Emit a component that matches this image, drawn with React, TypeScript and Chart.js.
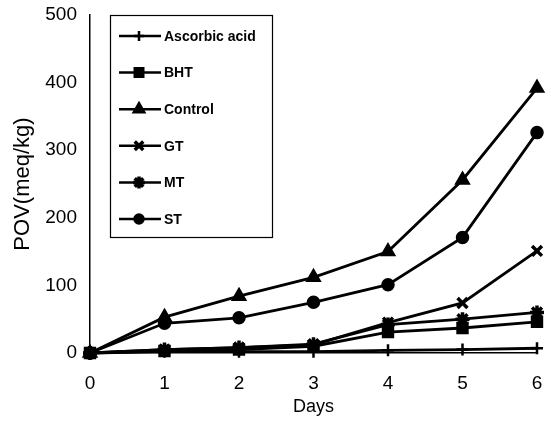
import React, { useEffect, useRef } from "react";
import { Chart, registerables } from "chart.js";
import { drawPoint } from "chart.js/helpers";

Chart.register(...registerables);

const days = [0, 1, 2, 3, 4, 5, 6];
const ascorbic = [0, 2, 2, 2, 4, 5, 7];
const bht = [0, 3, 5, 10, 31, 37, 46];
const control = [0, 53, 84, 112, 150, 256, 392];
const gt = [0, 5, 8, 12, 45, 74, 151];
const mt = [0, 5, 8, 13, 42, 50, 60];
const st = [0, 44, 52, 75, 101, 171, 326];
const yTicks = [0, 100, 200, 300, 400, 500];

const seriesNames = ["Ascorbic acid", "BHT", "Control", "GT", "MT", "ST"];
const seriesValues = [ascorbic, bht, control, gt, mt, st];
const seriesStyles = ["cross", "rect", "triangle", "crossRot", "star", "circle"];

const FONT = "'Liberation Sans', Arial, sans-serif";

const legendBox = {
  id: "legendBox",
  afterDraw(chart: any) {
    const ctx = chart.ctx;
    const left = 110, top = 15, right = 272, bottom = 237;
    ctx.save();
    ctx.fillStyle = "#fff";
    ctx.fillRect(left, top, right - left, bottom - top);
    ctx.strokeStyle = "#000";
    ctx.lineWidth = 1.2;
    ctx.strokeRect(left + 0.5, top + 0.5, right - left, bottom - top);
    chart.data.datasets.forEach((ds: any, i: number) => {
      const y = 36 + i * 36.6;
      ctx.strokeStyle = "#000";
      ctx.lineWidth = 2.5;
      ctx.beginPath();
      ctx.moveTo(119, y);
      ctx.lineTo(161, y);
      ctx.stroke();
      ctx.fillStyle = "#000";
      ctx.lineWidth = ds.pointBorderWidth;
      drawPoint(ctx, { pointStyle: ds.pointStyle, radius: ds.pointRadius - 1, borderWidth: ds.pointBorderWidth, rotation: 0 } as any, 139, y);
      ctx.fillStyle = "#000";
      ctx.font = "bold 14px " + FONT;
      ctx.textBaseline = "middle";
      ctx.textAlign = "left";
      ctx.fillText(ds.label, 164, y + 1);
    });
    ctx.restore();
  },
};

export default function App() {
  const ref = useRef<HTMLCanvasElement>(null);
  useEffect(() => {
    if (!ref.current) return;
    const chart = new Chart(ref.current, {
      type: "line",
      data: {
        datasets: seriesNames.map((name, i) => ({
          label: name,
          data: days.map((d, j) => ({ x: d, y: seriesValues[i][j] })),
          borderColor: "#000",
          backgroundColor: "#000",
          borderWidth: 2.8,
          pointStyle: seriesStyles[i] as any,
          pointRadius: seriesStyles[i] === "circle" ? 5.5 : seriesStyles[i] === "cross" ? 6 : 7,
          pointBorderWidth: seriesStyles[i] === "crossRot" || seriesStyles[i] === "star" ? 3.5 : 2.5,
          pointBackgroundColor: "#000",
          pointBorderColor: "#000",
          tension: 0,
          clip: false as any,
        })),
      },
      options: {
        animation: false,
        responsive: false,
        layout: { autoPadding: false, padding: { top: 15, right: 14, left: 0, bottom: 0 } },
        plugins: { legend: { display: false }, tooltip: { enabled: false } },
        scales: {
          x: {
            type: "linear",
            min: 0,
            max: 6,
            grid: { display: false, drawTicks: false },
            border: { display: true, color: "#000", width: 1.5 },
            ticks: { stepSize: 1, color: "#000", font: { family: FONT, size: 19 }, padding: 19 },
            title: { display: true, text: "Days", color: "#000", font: { family: FONT, size: 18 }, padding: { top: 4, bottom: 5 } },
            afterFit: (s: any) => { s.height = 70; s.paddingLeft = 0; s.paddingRight = 0; },
          },
          y: {
            type: "linear",
            min: 0,
            max: 500,
            afterBuildTicks: (s: any) => { s.ticks = yTicks.map((v) => ({ value: v })); },
            grid: { display: false, drawTicks: true, tickLength: 4, tickColor: "#000" },
            border: { display: true, color: "#000", width: 1.5 },
            ticks: { color: "#000", font: { family: FONT, size: 19 }, padding: 9 },
            title: { display: true, text: "POV(meq/kg)", color: "#000", font: { family: FONT, size: 22 }, padding: { top: 10, bottom: 4 } },
            afterFit: (s: any) => { s.width = 90; s.paddingTop = 0; s.paddingBottom = 0; },
          },
        },
      },
      plugins: [legendBox],
    } as any);
    return () => chart.destroy();
  }, []);
  return (
    <div style={{ position: "fixed", left: 0, top: 0, width: 551, height: 423, background: "#fff" }}>
      <canvas ref={ref} width={551} height={423} />
    </div>
  );
}
